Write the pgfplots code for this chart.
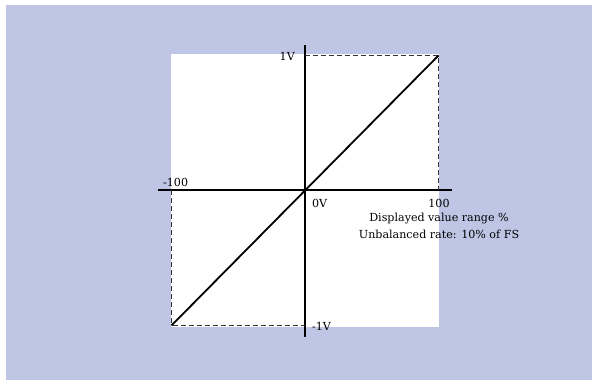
\documentclass[border=0pt]{standalone}
\usepackage{pgfplots}
\pgfplotsset{compat=1.18}
\usepackage{fontspec}
\setmainfont{DejaVu Serif}
\definecolor{panel}{RGB}{191,197,229}
\definecolor{dashgray}{RGB}{50,50,50}
\tikzset{lbl/.style={font=\fontsize{11.1}{13}\selectfont, inner sep=0pt}}

\begin{document}
\begin{tikzpicture}
\begin{axis}[
    scale only axis,
    width=592pt, height=380pt,
    xmin=-228.5, xmax=215.0,
    ymin=-1.404, ymax=1.411,
    hide axis,
    clip=false,
]
% background panel and white plot area
\path (axis cs:-228.5,1.411) rectangle (axis cs:215.0,-1.404);
\fill[panel] (axis cs:-224.0,1.374) rectangle (axis cs:215.0,-1.404);
\fill[white] (axis cs:-100.6,1.012) rectangle (axis cs:100.2,-1.012);

% axes
\draw[line width=2pt] (axis cs:-110.1,0) -- (axis cs:110.1,0);
\draw[line width=1.9pt] (axis cs:0,1.078) -- (axis cs:0,-1.085);

% dashed guides
\addplot[dashgray, line width=1.2pt, dash pattern=on 5pt off 3pt]
    coordinates {(0,1) (100,1) (100,0)};
\addplot[dashgray, line width=1.2pt, dash pattern=on 5pt off 3pt]
    coordinates {(-100,0) (-100,-1) (0,-1)};

% transfer line
\addplot[black, line width=1.8pt] coordinates {(-100,-1) (100,1)};

% labels
\node[lbl, anchor=east] at (axis cs:-7.5,0.99) {1V};
\node[lbl, anchor=west] at (axis cs:-106.4,0.063) {-100};
\node[lbl, anchor=west] at (axis cs:5.2,-0.093) {0V};
\node[lbl] at (axis cs:100.4,-0.093) {100};
\node[lbl] at (axis cs:100.4,-0.211) {Displayed value range \%};
\node[lbl] at (axis cs:100.4,-0.322) {Unbalanced rate: 10\% of FS};
\node[lbl, anchor=west] at (axis cs:5.2,-1.009) {-1V};
\end{axis}
\end{tikzpicture}
\end{document}
